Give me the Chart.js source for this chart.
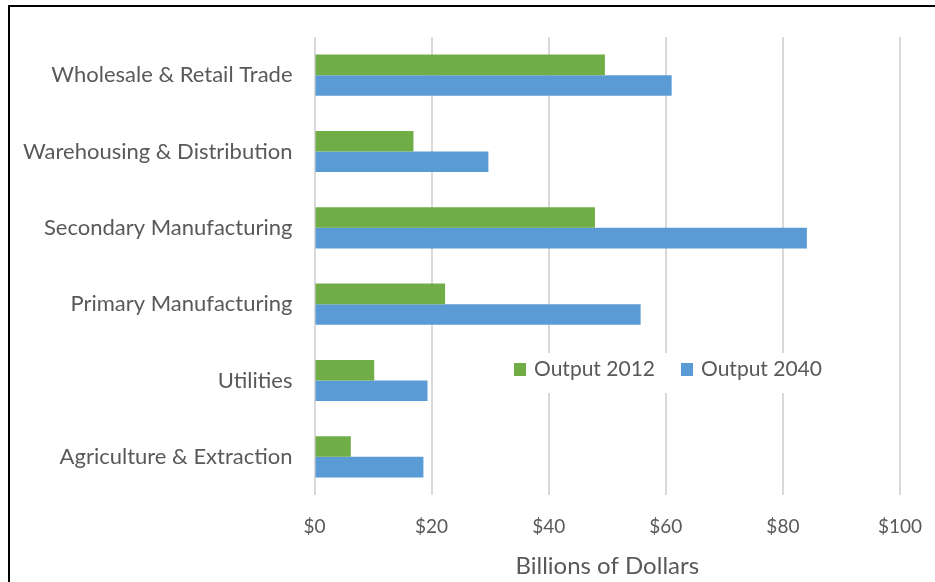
<!DOCTYPE html>
<html>
<head>
<meta charset="utf-8">
<script src="https://cdn.jsdelivr.net/npm/chart.js@4/dist/chart.umd.min.js"></script>
<style>
  html, body { margin: 0; padding: 0; background: #fff; overflow: hidden; }
  #frame {
    position: absolute; left: 8px; top: 5px;
    width: 925px; height: 600px;
    border-left: 2px solid #000; border-top: 2px solid #000;
  }
  #chartWrap { position: absolute; left: 0; top: 0; width: 925px; height: 575px; }
</style>
</head>
<body>
<div id="frame">
  <div id="chartWrap"><canvas id="outputChart"></canvas></div>
</div>
<script>
// Sector output, billions of dollars
const sectors = [
  'Wholesale & Retail Trade',
  'Warehousing & Distribution',
  'Secondary Manufacturing',
  'Primary Manufacturing',
  'Utilities',
  'Agriculture & Extraction'
];
const output2012 = [49.6, 16.9, 47.9, 22.3, 10.2, 6.2];
const output2040 = [61.0, 29.7, 84.1, 55.7, 19.3, 18.6];
const xMin = 0, xMax = 100, xStep = 20;

const fontFamily = 'Lato, "Open Sans", sans-serif';
const textColor = '#595959';

// Legend sits inside the plot, over a white patch that breaks the gridlines
const innerLegend = {
  id: 'innerLegend',
  afterDraw(chart) {
    const ctx = chart.ctx;
    const items = chart.data.datasets.map(ds => ({ label: ds.label, color: ds.backgroundColor }));
    ctx.save();
    ctx.fillStyle = '#fff';
    ctx.fillRect(494, 346, 330, 40);
    ctx.font = `21px ${fontFamily}`;
    ctx.textBaseline = 'middle';
    let x = 504;
    const y = 362;
    items.forEach(it => {
      ctx.fillStyle = it.color;
      ctx.fillRect(x, y - 6, 12, 13);
      ctx.fillStyle = textColor;
      ctx.fillText(it.label, x + 20, y);
      x += 20 + ctx.measureText(it.label).width + 26;
    });
    ctx.restore();
  }
};

// keep tick labels from pushing the plot area inward
const noOverflow = s => {
  s.paddingLeft = 0; s.paddingRight = 0;
  s.paddingTop = 0; s.paddingBottom = 0;
};

const config = {
  type: 'bar',
  data: {
    labels: sectors,
    datasets: [
      { label: 'Output 2012', data: output2012, backgroundColor: '#70AD47' },
      { label: 'Output 2040', data: output2040, backgroundColor: '#5B9BD5' }
    ]
  },
  options: {
    indexAxis: 'y',
    responsive: true,
    maintainAspectRatio: false,
    animation: false,
    layout: { padding: { top: 30, right: 35, bottom: 0, left: 0 } },
    categoryPercentage: 0.54,
    barPercentage: 1.0,
    plugins: {
      legend: { display: false },
      tooltip: { enabled: false }
    },
    scales: {
      x: {
        min: xMin,
        max: xMax,
        ticks: {
          stepSize: xStep,
          color: textColor,
          font: { family: fontFamily, size: 19 },
          padding: 20,
          callback: v => '$' + v
        },
        grid: { color: '#d9d9d9', lineWidth: 2, drawTicks: false },
        border: { display: false },
        title: {
          display: true,
          text: 'Billions of Dollars',
          color: textColor,
          font: { family: fontFamily, size: 24 },
          padding: { top: 9, bottom: 1 }
        },
        afterFit: s => { s.height = 87; noOverflow(s); }
      },
      y: {
        ticks: { color: textColor, font: { family: fontFamily, size: 22 }, padding: 22 },
        grid: { display: false, drawTicks: false },
        border: { display: false },
        afterFit: s => { s.width = 304.5; noOverflow(s); }
      }
    }
  },
  plugins: [innerLegend]
};

const outputChart = new Chart(document.getElementById('outputChart'), config);
</script>
</body>
</html>
